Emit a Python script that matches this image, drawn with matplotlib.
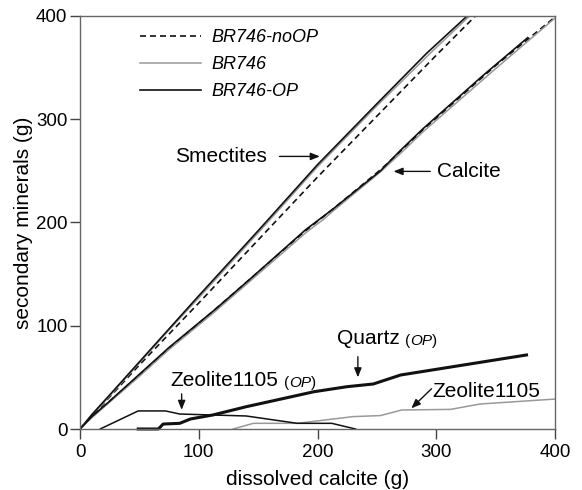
import matplotlib
matplotlib.use("Agg")
import matplotlib.pyplot as plt

plt.rcParams['font.family'] = ['Liberation Sans', 'DejaVu Sans']

# ---- data ----
smec_op_x = [0, 10, 25, 50, 75, 100, 150, 200, 250, 292, 326]
smec_op_y = [0, 14, 33, 65, 97, 129, 192, 256, 315, 364, 400]
smec_br_x = [0, 10, 25, 50, 75, 100, 150, 200, 250, 295, 328]
smec_br_y = [0, 13, 32, 64, 96, 127, 190, 254, 313, 364, 400]
smec_no_x = [0, 10, 25, 50, 100, 150, 200, 250, 300, 333]
smec_no_y = [0, 13, 31, 62, 122, 183, 244, 303, 362, 400]

calc_br_x = [0, 10, 25, 50, 75, 114, 143, 190, 205, 213, 253, 270, 289, 350, 400]
calc_br_y = [0, 11, 26, 51, 77, 114, 143, 190, 203, 211, 249, 267, 288, 349, 398]
calc_no_x = [0, 10, 25, 50, 75, 114, 143, 190, 213, 253, 270, 289, 350, 400]
calc_no_y = [0, 12, 27, 52, 78, 116, 145, 192, 213, 251, 269, 290, 352, 399]
calc_op_x = [0, 10, 25, 50, 75, 114, 143, 190, 213, 253, 270, 289, 340, 377]
calc_op_y = [0, 12, 27, 53, 79, 116, 145, 193, 213, 250, 270, 291, 343, 379]

quartz_op_x = [49, 66, 70, 84, 93, 112, 140, 168, 197, 225, 247, 270, 376]
quartz_op_y = [0, 0, 4.8, 5.5, 9.7, 13.6, 21.6, 28.7, 36.1, 41, 43.6, 52.3, 71.7]
zeo_op_x = [17, 49, 72, 84, 140, 183, 212, 232]
zeo_op_y = [0, 17.5, 17.5, 14.5, 12.6, 5.5, 5.5, 0]
zeo_br_x = [129, 146, 183, 230, 253, 271, 312, 337, 400]
zeo_br_y = [0, 5.5, 5.5, 12, 13, 18.4, 19, 24.2, 29]

xticks = [0, 100, 200, 300, 400]
yticks = [0, 100, 200, 300, 400]
legend_labels = ['BR746-noOP', 'BR746', 'BR746-OP']

BLACK = '#111111'
GREY = '#999999'
DASH = (3.6, 2.4)

fig = plt.figure(figsize=(5.82, 4.90), dpi=100)
ax = fig.add_axes([80/582, 61/490, 475/582, 413/490])

# smectites
l_no, = ax.plot(smec_no_x, smec_no_y, color=BLACK, lw=1.2, dashes=DASH)
l_br, = ax.plot(smec_br_x, smec_br_y, color=GREY, lw=1.1)
l_op, = ax.plot(smec_op_x, smec_op_y, color=BLACK, lw=1.2)
# calcite
ax.plot(calc_no_x, calc_no_y, color=BLACK, lw=1.2, dashes=DASH)
ax.plot(calc_br_x, calc_br_y, color=GREY, lw=1.1)
ax.plot(calc_op_x, calc_op_y, color=BLACK, lw=1.2)
# minor phases
ax.plot(zeo_br_x, zeo_br_y, color=GREY, lw=1.1, clip_on=False)
ax.plot(zeo_op_x, zeo_op_y, color=BLACK, lw=1.1, clip_on=False)
ax.plot(quartz_op_x, quartz_op_y, color=BLACK, lw=2.2, clip_on=False)

ax.set_xlim(0, 400)
ax.set_ylim(0, 400)
ax.set_xticks(xticks)
ax.set_yticks(yticks)
for s in ax.spines.values():
    s.set_color('#666666')
    s.set_linewidth(1.0)
ax.tick_params(direction='out', length=7, width=1.0, color='#444444',
               labelsize=13.5)
ax.tick_params(axis='x', pad=4)
ax.tick_params(axis='y', pad=2)
ax.set_xlabel('dissolved calcite (g)', fontsize=15, labelpad=6)
ax.set_ylabel('secondary minerals (g)', fontsize=15, labelpad=2)

leg = ax.legend([l_no, l_br, l_op], legend_labels, loc='upper left',
                bbox_to_anchor=(0.126, 0.968), frameon=False, borderpad=0,
                borderaxespad=0, handlelength=3.4, handletextpad=0.55,
                labelspacing=0.55, prop={'style': 'italic', 'size': 13})

AP = dict(arrowstyle='-|>,head_length=0.55,head_width=0.22', color=BLACK,
          lw=1.0, shrinkA=0, shrinkB=0)

# Smectites
ax.text(118.7, 264, 'Smectites', fontsize=15, ha='center', va='center')
ax.annotate('', xy=(202, 264), xytext=(168, 264), arrowprops=AP)
# Calcite
ax.text(301, 249.5, 'Calcite', fontsize=15, ha='left', va='center')
ax.annotate('', xy=(264, 249.5), xytext=(295, 249.5), arrowprops=AP)


def styled(x, y, main):
    t = ax.text(x, y, main, fontsize=15, ha='left', va='baseline')
    a1 = ax.annotate('(', xy=(1, 0), xycoords=t, xytext=(4, 0),
                     textcoords='offset points', fontsize=11, va='bottom')
    a2 = ax.annotate('OP', xy=(1, 0), xycoords=a1, xytext=(0, 0),
                     textcoords='offset points', fontsize=11, va='bottom',
                     style='italic')
    ax.annotate(')', xy=(1, 0), xycoords=a2, xytext=(0, 0),
                textcoords='offset points', fontsize=11, va='bottom')
    return t


styled(216, 82, 'Quartz')
ax.annotate('', xy=(234, 50), xytext=(234, 70), arrowprops=AP)

styled(76, 42, 'Zeolite1105')
ax.annotate('', xy=(85.6, 18.5), xytext=(85.6, 34), arrowprops=AP)

ax.text(297, 36, 'Zeolite1105', fontsize=15, ha='left', va='center')
ax.annotate('', xy=(279, 20), xytext=(296, 39), arrowprops=AP)

fig.savefig('out.png', dpi=100)
